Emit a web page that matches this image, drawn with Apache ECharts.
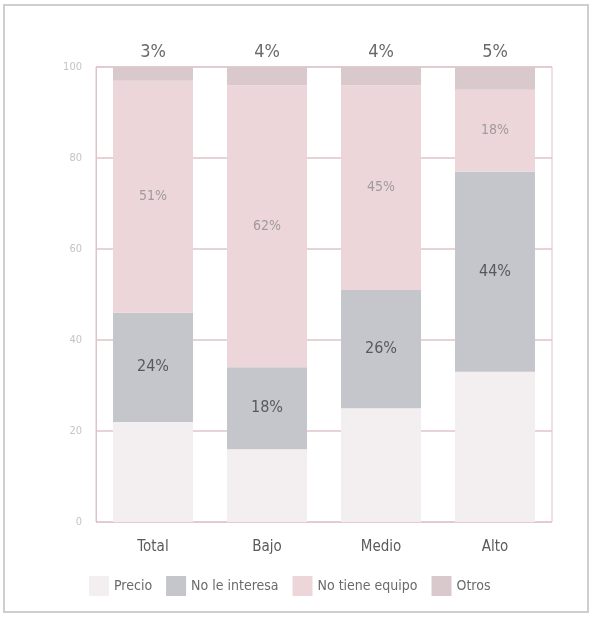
<!DOCTYPE html>
<html><head><meta charset="utf-8">
<script src="https://cdn.jsdelivr.net/npm/echarts@6/dist/echarts.min.js"></script>
<style>html,body{margin:0;padding:0;background:#fff}#c{width:592px;height:625px}</style>
</head><body><div id="c"></div>
<script>
const categories = ['Total', 'Bajo', 'Medio', 'Alto'];
const precio = [22, 16, 25, 33];
const noLeInteresa = [24, 18, 26, 44];
const noTieneEquipo = [51, 62, 45, 18];
const otros = [3, 4, 4, 5];
const yTicks = [0, 20, 40, 60, 80, 100];

const FONT = '"Liberation Sans Narrow", "DejaVu Sans Condensed", sans-serif';
const chart = echarts.init(document.getElementById('c'), null, {renderer: 'canvas'});
const gridLine = '#dfc3c8';
chart.setOption({
  animation: false,
  backgroundColor: '#fff',
  textStyle: {fontFamily: FONT},
  graphic: [{
    type: 'rect', shape: {x: 4, y: 5, width: 584, height: 607},
    style: {fill: 'none', stroke: '#cfcfcf', lineWidth: 2}, silent: true
  }],
  grid: {left: 96, right: 40, top: 67, bottom: 103, show: true, borderColor: gridLine, borderWidth: 1},
  legend: {
    bottom: 24, left: 84, itemWidth: 20, itemHeight: 20, itemGap: 14,
    icon: 'rect',
    textStyle: {color: '#6a6a6a', fontSize: 14, fontFamily: FONT},
    data: ['Precio', 'No le interesa', 'No tiene equipo', 'Otros']
  },
  xAxis: {
    type: 'category', data: categories,
    axisLine: {show: false}, axisTick: {show: false},
    axisLabel: {color: '#5a5a5a', fontSize: 15, margin: 18, fontFamily: FONT}
  },
  yAxis: {
    type: 'value', min: 0, max: 100, interval: 20,
    axisLine: {show: true, lineStyle: {color: gridLine}},
    axisTick: {show: false},
    axisLabel: {color: '#c4c4c4', fontSize: 11, margin: 14,
      formatter: v => yTicks.includes(v) ? String(v) : ''},
    splitLine: {show: true, lineStyle: {color: gridLine, width: 1.5}}
  },
  series: [
    {name: 'Precio', type: 'bar', stack: 's', data: precio, barWidth: 80,
      itemStyle: {color: '#f3eff0'}},
    {name: 'No le interesa', type: 'bar', stack: 's', data: noLeInteresa,
      itemStyle: {color: '#c5c6cc'},
      label: {show: true, position: 'inside', formatter: '{c}%', color: '#555a60', fontSize: 16, fontFamily: FONT}},
    {name: 'No tiene equipo', type: 'bar', stack: 's', data: noTieneEquipo,
      itemStyle: {color: '#ecd6d9'},
      label: {show: true, position: 'inside', formatter: '{c}%', color: '#a09a9c', fontSize: 14, fontFamily: FONT}},
    {name: 'Otros', type: 'bar', stack: 's', data: otros,
      itemStyle: {color: '#d9c9cc'},
      label: {show: true, position: 'top', distance: 6, formatter: '{c}%', color: '#6a6a6a', fontSize: 18, fontFamily: FONT}}
  ]
});
</script></body></html>
